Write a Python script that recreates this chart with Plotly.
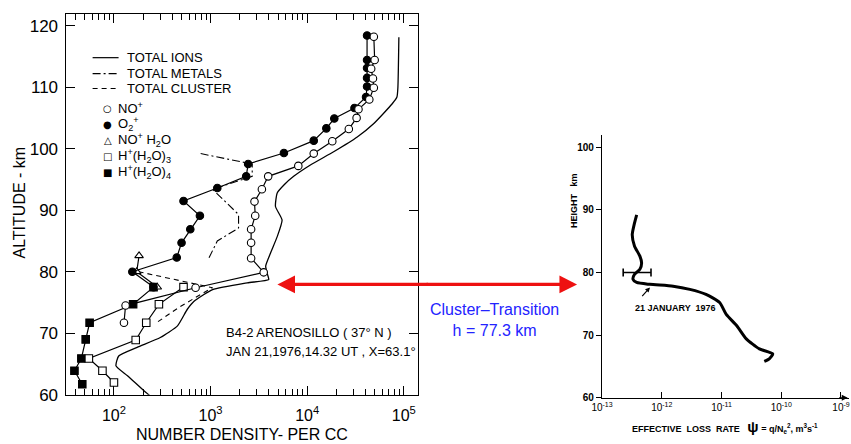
import plotly.graph_objects as go

W, H = 851, 444

# ---------------- Left panel: ion composition, B4-2 Arenosillo ----------------
# Total ions (solid)
ions_alt = [118.1, 110.0, 108.4, 107.3, 104.1, 101.9, 99.5, 97.3, 95.5, 94.1, 92.8, 90.6,
            88.4, 85.7, 83.0, 80.9, 79.5, 78.7, 78.2, 77.1, 75.2, 73.9, 71.2, 69.3, 67.7,
            66.3, 64.7, 63.1, 60.4, 59.5]
ions_n = [89000, 87000, 85000, 76000, 49000, 33000, 18800, 10700, 7250, 5750, 4900, 4700,
          5500, 4900, 4170, 3720, 3900, 4000, 2400, 1050, 675, 575, 455, 302, 174,
          112, 105, 138, 213, 251]

# Total metals (dash-dot)
metals_alt = [99.2, 97.7, 97.5, 95.5, 93.4, 89.3, 87.1, 85.0, 82.2]
metals_n = [790, 2250, 2700, 2700, 1050, 1950, 1950, 1175, 960]

# Total cluster (dashed)
cluster_alt = [80.0, 77.4, 76.3, 74.2, 71.7]
cluster_n = [180, 1050, 790, 470, 275]

# NO+
no_alt = [118.2, 114.4, 113.0, 111.4, 109.9, 108.0, 106.4, 105.0, 103.2, 101.2, 99.2,
          97.2, 95.5, 93.4, 91.4, 89.1, 86.9, 84.7, 82.2, 79.9, 77.4, 74.5, 71.7]
no_n = [49000, 50000, 46000, 48000, 49000, 44000, 34000, 32500, 27000, 18200, 11700,
        8100, 3950, 3400, 2850, 2900, 2630, 2630, 2630, 3550, 700, 132, 127]

# O2+
o2_alt = [118.4, 114.4, 113.1, 111.5, 110.1, 108.4, 106.6, 104.9, 103.3, 101.3, 99.3,
          97.5, 95.5, 93.6, 91.5, 89.1, 86.9, 84.7, 82.3, 80.0, 77.5]
o2_n = [41700, 41700, 41700, 41700, 41700, 40700, 30900, 19100, 15800, 11700, 5750,
        2450, 2340, 1175, 525, 776, 617, 501, 447, 155, 257]

# NO+ H2O
noh2o_alt = [82.6, 80.0, 77.5]
noh2o_n = [182, 172, 281]

# H+(H2O)3
h3_alt = [77.5, 74.7, 71.7, 68.9, 65.9, 63.9, 62.0]
h3_n = [525, 292, 216, 168, 55, 76, 100]

# H+(H2O)4
h4_alt = [77.5, 74.7, 71.7, 69.0, 65.9, 63.9, 61.7]
h4_n = [257, 158, 56, 51, 46, 39, 47]

left_xticks = [1e2, 1e3, 1e4, 1e5]
left_xticktext = ["10<sup>2</sup>", "10<sup>3</sup>", "10<sup>4</sup>", "10<sup>5</sup>"]
left_yticks = [60, 70, 80, 90, 100, 110, 120]

# ---------------- Right panel: effective loss rate ----------------
loss_alt = [89.2, 87.9, 86.0, 84.2, 82.6, 81.5, 80.5, 79.7, 78.9, 78.4, 78.1, 77.8, 77.3,
            76.5, 75.2, 73.3, 71.5, 69.4, 67.8, 67.0, 66.2, 65.8]
loss_rate = [3.8e-13, 3.5e-13, 3.2e-13, 3.5e-13, 4.3e-13, 4.6e-13, 4.3e-13, 3.5e-13,
             3.3e-13, 3.8e-13, 6.3e-13, 1.55e-12, 2.95e-12, 5.5e-12, 9.3e-12, 1.2e-11,
             1.8e-11, 2.6e-11, 4.3e-11, 7.2e-11, 6.3e-11, 5.2e-11]
err_alt = 80.0
err_center = 3.8e-13
err_low = 2.26e-13
err_high = 6.6e-13

right_xticks = [1e-13, 1e-12, 1e-11, 1e-10, 1e-9]
right_xticktext = ["10<sup>-13</sup>", "10<sup>-12</sup>", "10<sup>-11</sup>",
                   "10<sup>-10</sup>", "10<sup>-9</sup>"]
right_yticks = [60, 70, 80, 90, 100]

transition_h = 77.3

# page placement: the rendered page is offset/scaled slightly, so layout pixel
# positions are mapped through this correction
SX, OX = 0.987, 10.3
SY, OY = 0.983, -1.0


def px(x):
    return ((x - OX) / SX) / W


def py(y):
    return 1 - ((y - OY) / SY) / H


FONT = "Liberation Sans, Arial, sans-serif"
fig = go.Figure()

line_style = dict(color="black", width=1.2)

# totals
fig.add_trace(go.Scatter(x=ions_n, y=ions_alt, mode="lines",
                         line=dict(color="black", width=1.3, shape="spline", smoothing=0.5),
                         xaxis="x", yaxis="y", hoverinfo="skip"))
fig.add_trace(go.Scatter(x=metals_n, y=metals_alt, mode="lines",
                         line=dict(color="black", width=1.1, dash="8px,3px,2px,3px"),
                         xaxis="x", yaxis="y", hoverinfo="skip"))
fig.add_trace(go.Scatter(x=cluster_n, y=cluster_alt, mode="lines",
                         line=dict(color="black", width=1.1, dash="5px,4px"),
                         xaxis="x", yaxis="y", hoverinfo="skip"))

# species profiles
species = [
    (h4_n, h4_alt, "square", "black"),
    (h3_n, h3_alt, "square", "white"),
    (noh2o_n, noh2o_alt, "triangle-up", "white"),
    (o2_n, o2_alt, "circle", "black"),
    (no_n, no_alt, "circle", "white"),
]
for xs, ys, sym, fill in species:
    fig.add_trace(go.Scatter(
        x=xs, y=ys, mode="lines+markers", line=line_style,
        marker=dict(symbol=sym, size=7.5, color=fill, line=dict(color="black", width=1.1)),
        xaxis="x", yaxis="y", hoverinfo="skip"))

# effective loss rate curve
fig.add_trace(go.Scatter(x=loss_rate, y=loss_alt, mode="lines",
                         line=dict(color="black", width=3, shape="spline", smoothing=0.6),
                         xaxis="x2", yaxis="y2", hoverinfo="skip"))
fig.add_trace(go.Scatter(
    x=[err_center], y=[err_alt], mode="markers", marker=dict(size=1, color="black"),
    error_x=dict(type="data", symmetric=False, array=[err_high - err_center],
                 arrayminus=[err_center - err_low], color="black", thickness=1.6, width=4),
    xaxis="x2", yaxis="y2", hoverinfo="skip"))

axis_common = dict(showgrid=False, zeroline=False, showline=True, linecolor="black",
                   tickcolor="black")

fig.update_layout(
    width=W, height=H, margin=dict(l=0, r=0, t=0, b=0),
    paper_bgcolor="white", plot_bgcolor="rgba(0,0,0,0)", showlegend=False,
    font=dict(family=FONT, color="black"),
    xaxis=dict(axis_common, type="log", range=[1.50, 5.15], domain=[px(65), px(418)],
               anchor="y", linewidth=1.3, mirror="allticks", ticks="inside", ticklen=9,
               tickwidth=1.2, tickmode="array", tickvals=left_xticks, ticktext=left_xticktext,
               tickfont=dict(size=16, family=FONT), ticklabelstandoff=6,
               minor=dict(ticks="inside", ticklen=6, tickcolor="black", tickwidth=1.1,
                          tickmode="array",
                          tickvals=[m * 10 ** e for e in range(1, 6) for m in range(2, 10)
                                    if 30 <= m * 10 ** e <= 1.4e5])),
    yaxis=dict(axis_common, range=[60, 121.9], domain=[py(396), py(13)], anchor="x",
               linewidth=1.3, mirror="allticks", ticks="inside", ticklen=9, tickwidth=1.2,
               tickmode="array", tickvals=left_yticks, tickfont=dict(size=17, family=FONT),
               ticklabelstandoff=3),
    xaxis2=dict(axis_common, type="log", range=[-13, -8.87], domain=[px(602), min(1, px(849))],
                anchor="y2", linewidth=1.3, ticks="inside", ticklen=6, tickwidth=1,
                tickmode="array", tickvals=right_xticks, ticktext=right_xticktext,
                tickfont=dict(size=10, family=FONT)),
    yaxis2=dict(axis_common, range=[60, 101.9], domain=[py(399), py(135)], anchor="x2",
                linewidth=1.3, ticks="outside", ticklen=5, tickwidth=1.2,
                tickmode="array", tickvals=right_yticks,
                tickfont=dict(size=10, family=FONT, weight="bold")),
)

ann = []


def label(text, x, y, size, xanchor="center", family=FONT, **kw):
    """Text placed at a figure-pixel position."""
    font = dict(size=size, family=family)
    font.update(kw.pop("font", {}))
    return dict(text=text, x=px(x), y=py(y), xref="paper", yref="paper",
                xanchor=xanchor, yanchor="middle", showarrow=False, font=font, **kw)


def pix_arrow(x_head, y_head, x_tail, y_tail, **kw):
    """Arrow drawn between two figure-pixel positions."""
    return dict(text="", x=px(x_head), y=py(y_head), xref="paper", yref="paper",
                ax=(x_tail - x_head) / SX, ay=(y_tail - y_head) / SY, showarrow=True, **kw)


# axis titles, left panel
ann.append(label("ALTITUDE - km", 19, 203, 16, textangle=-90))
ann.append(label("NUMBER DENSITY- PER CC", 242, 436, 16))

# legend, left panel
leg_lines = [("TOTAL IONS", 57, "solid"), ("TOTAL METALS", 73, "8px,3px,2px,3px"),
             ("TOTAL CLUSTER", 88, "5px,4px")]
shapes = []
for text, yy, dash in leg_lines:
    shapes.append(dict(type="line", xref="paper", yref="paper", x0=px(92), x1=px(118),
                       y0=py(yy), y1=py(yy), line=dict(color="black", width=1.2, dash=dash)))
    ann.append(label(text, 124, yy, 13, xanchor="left"))

leg_marks = [("○", "NO<sup>+</sup>", 108), ("●", "O<sub>2</sub><sup>+</sup>", 124),
             ("△", "NO<sup>+</sup> H<sub>2</sub>O", 140),
             ("□", "H<sup>+</sup>(H<sub>2</sub>O)<sub>3</sub>", 156),
             ("■", "H<sup>+</sup>(H<sub>2</sub>O)<sub>4</sub>", 172)]
for sym, text, yy in leg_marks:
    ann.append(label(sym, 107, yy, 10, family="DejaVu Sans"))
    ann.append(label(text, 115, yy, 13, xanchor="left"))

# flight info
ann.append(label("B4-2 ARENOSILLO ( 37° N )", 224, 333, 13, xanchor="left"))
ann.append(label("JAN 21,1976,14.32 UT , X=63.1°", 224, 352, 13, xanchor="left"))

# right panel titles
ann.append(label("HEIGHT   km", 574, 201, 9, textangle=-90, font=dict(weight="bold")))
ann.append(label("EFFECTIVE  LOSS  RATE   <span style='font-size:15px'>ψ</span> = "
                 "q/N<sub>e</sub><sup>2</sup>, m<sup>3</sup>s<sup>-1</sup>",
                 725, 428, 9, font=dict(weight="bold")))
ann.append(label("21 JANUARY  1976", 676, 309, 9, font=dict(weight="bold")))
ann.append(pix_arrow(650, 288, 641, 298, arrowhead=2, arrowsize=0.8, arrowwidth=1.2,
                     arrowcolor="black"))
# arrow tip at the end of the loss-rate axis
ann.append(pix_arrow(848, 399, 838, 399, arrowhead=2, arrowsize=1, arrowwidth=1.2,
                     arrowcolor="black"))

# cluster transition marker between panels
ann.append(label("Cluster–Transition<br>h = %.1f km" % transition_h, 494, 321, 16,
                 font=dict(color="#2323ff")))
ann.append(pix_arrow(277, 285, 427, 285, arrowhead=2, arrowsize=1.1, arrowwidth=3.2,
                     arrowcolor="#ee1111"))
ann.append(pix_arrow(577, 285, 427, 285, arrowhead=2, arrowsize=1.1, arrowwidth=3.2,
                     arrowcolor="#ee1111"))

fig.update_layout(annotations=ann, shapes=shapes)

fig.write_html("out.html",
               post_script="document.body.style.margin='0';"
                           "document.body.style.overflow='hidden';")
